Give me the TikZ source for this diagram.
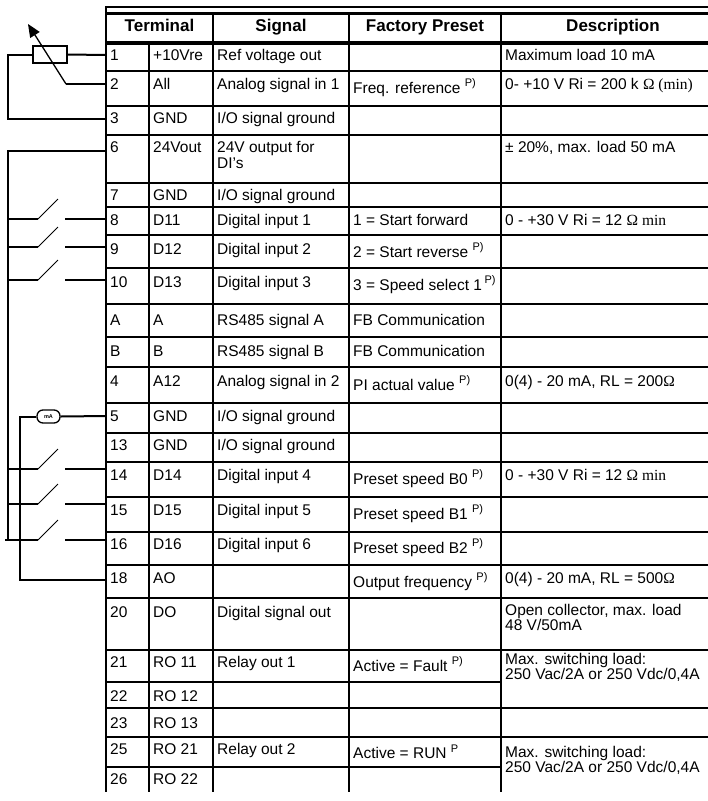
\documentclass[tikz,border=0pt]{standalone}
\usepackage{fontspec}
\setmainfont{Liberation Sans}
\newfontfamily\serifom{Liberation Serif}
\usetikzlibrary{arrows.meta}
\newcommand\Pp{\raisebox{0.42em}{\fontsize{11}{11}\selectfont P)}}
\newcommand\Pq{\raisebox{0.42em}{\fontsize{11}{11}\selectfont P}}
\begin{document}
\begin{tikzpicture}[x=1pt,y=-1pt,
  txt/.style={anchor=base west, inner sep=0pt, font=\fontsize{15.5}{16}\selectfont},
  mtxt/.style={anchor=north west, inner sep=0pt, align=left},
  hdr/.style={anchor=base, inner sep=0pt, font=\bfseries\fontsize{17}{17}\selectfont},
  gridl/.style={line width=2.5pt},
  wire/.style={line width=2pt},
  blade/.style={line width=1pt},
]
\useasboundingbox (0,0) rectangle (708,801);
% ---------- table rules ----------
\draw[line width=2pt] (105,7) -- (708,7);
\draw[gridl] (105,13.5) -- (708,13.5);
\draw[line width=4pt] (105,43) -- (708,43);
\foreach \yy in {71,106,135,183,207,235,268,304,337,367,403,433,462,497,532,565,598,650,708,737}
  \draw[gridl] (105,\yy) -- (708,\yy);
\foreach \yy in {682,767}
  \draw[gridl] (105,\yy) -- (501,\yy);
\draw[gridl] (106,6) -- (106,792);
\draw[gridl] (149,43) -- (149,792);
\foreach \xx in {213,349,501}
  \draw[gridl] (\xx,13) -- (\xx,792);
% ---------- header ----------
\node[hdr] (hT) at (159.5,31) {Terminal};
\node[hdr] (hS) at (281,31) {Signal};
\node[hdr] (hF) at (425,31) {Factory Preset};
\node[hdr] (hD) at (613,31) {Description};
% ---------- rows ----------
% row 1
\node[txt] (n1) at (110,60.5) {1};
\node[txt] (m1) at (153,60.5) {+10Vre};
\node[txt] (s1) at (217,60.5) {Ref voltage out};
\node[txt] (d1) at (505,60.5) {Maximum load 10 mA};
% row 2
\node[txt] (n2) at (110,89) {2};
\node[txt] (m2) at (153,89) {All};
\node[txt] (s2) at (217,89) {Analog signal in 1};
\node[txt] (f2) at (353,93) {Freq. reference \Pp};
\node[txt] (d2) at (505,89) {0- +10 V Ri = 200 k {\serifom Ω (min)}};
% row 3
\node[txt] (n3) at (110,123.5) {3};
\node[txt] (m3) at (153,123.5) {GND};
\node[txt] (s3) at (217,123.5) {I/O signal ground};
% row 6
\node[txt] (n6) at (110,152.5) {6};
\node[txt] (m6) at (153,152.5) {24Vout};
\node[mtxt, font=\fontsize{15.5}{16}\selectfont] (s6) at (217,141.5) {24V output for\\DI’s};
\node[txt] (d6) at (505,152.5) {± 20\%, max. load 50 mA};
% row 7
\node[txt] (n7) at (110,200) {7};
\node[txt] (m7) at (153,200) {GND};
\node[txt] (s7) at (217,200) {I/O signal ground};
% row 8
\node[txt] (n8) at (110,225) {8};
\node[txt] (m8) at (153,225) {D11};
\node[txt] (s8) at (217,225) {Digital input 1};
\node[txt] (f8) at (353,225) {1 = Start forward};
\node[txt] (d8) at (505,225) {0 - +30 V Ri = 12 {\serifom Ω min}};
% row 9
\node[txt] (n9) at (110,254) {9};
\node[txt] (m9) at (153,254) {D12};
\node[txt] (s9) at (217,254) {Digital input 2};
\node[txt] (f9) at (353,257) {2 = Start reverse \Pp};
% row 10
\node[txt] (n10) at (110,287) {10};
\node[txt] (m10) at (153,287) {D13};
\node[txt] (s10) at (217,287) {Digital input 3};
\node[txt] (f10) at (353,290) {3 = Speed select 1\,\Pp};
% row A
\node[txt] (nA) at (110,325) {A};
\node[txt] (mA1) at (153,325) {A};
\node[txt] (sA) at (217,325) {RS485 signal A};
\node[txt] (fA) at (353,325) {FB Communication};
% row B
\node[txt] (nB) at (110,356) {B};
\node[txt] (mB) at (153,356) {B};
\node[txt] (sB) at (217,356) {RS485 signal B};
\node[txt] (fB) at (353,356) {FB Communication};
% row 4
\node[txt] (n4) at (110,386) {4};
\node[txt] (m4) at (153,386) {A12};
\node[txt] (s4) at (217,386) {Analog signal in 2};
\node[txt] (f4) at (353,390) {PI actual value \Pp};
\node[txt] (d4) at (505,386) {0(4) - 20 mA, RL = 200{\serifom Ω}};
% row 5
\node[txt] (n5) at (110,421.5) {5};
\node[txt] (m5) at (153,421.5) {GND};
\node[txt] (s5) at (217,421.5) {I/O signal ground};
% row 13
\node[txt] (n13) at (110,450.5) {13};
\node[txt] (m13) at (153,450.5) {GND};
\node[txt] (s13) at (217,450.5) {I/O signal ground};
% row 14
\node[txt] (n14) at (110,480) {14};
\node[txt] (m14) at (153,480) {D14};
\node[txt] (s14) at (217,480) {Digital input 4};
\node[txt] (f14) at (353,484) {Preset speed B0 \Pp};
\node[txt] (d14) at (505,480) {0 - +30 V Ri = 12 {\serifom Ω min}};
% row 15
\node[txt] (n15) at (110,515) {15};
\node[txt] (m15) at (153,515) {D15};
\node[txt] (s15) at (217,515) {Digital input 5};
\node[txt] (f15) at (353,519) {Preset speed B1 \Pp};
% row 16
\node[txt] (n16) at (110,549.5) {16};
\node[txt] (m16) at (153,549.5) {D16};
\node[txt] (s16) at (217,549.5) {Digital input 6};
\node[txt] (f16) at (353,553.5) {Preset speed B2 \Pp};
% row 18
\node[txt] (n18) at (110,583) {18};
\node[txt] (m18) at (153,583) {AO};
\node[txt] (f18) at (353,587) {Output frequency \Pp};
\node[txt] (d18) at (505,583) {0(4) - 20 mA, RL = 500{\serifom Ω}};
% row 20
\node[txt] (n20) at (110,617) {20};
\node[txt] (m20) at (153,617) {DO};
\node[txt] (s20) at (217,617) {Digital signal out};
\node[mtxt, font=\fontsize{15.5}{14}\selectfont] (d20) at (505,604) {Open collector, max. load\\48 V/50mA};
% row 21
\node[txt] (n21) at (110,667.5) {21};
\node[txt] (m21) at (153,667.5) {RO 11};
\node[txt] (s21) at (217,667.5) {Relay out 1};
\node[txt] (f21) at (353,671.5) {Active = Fault \Pp};
\node[mtxt, font=\fontsize{15.5}{13.5}\selectfont] (d21) at (505,653) {Max. switching load:\\250 Vac/2A or 250 Vdc/0,4A};
% rows 22, 23
\node[txt] (n22) at (110,701) {22};
\node[txt] (m22) at (153,701) {RO 12};
\node[txt] (n23) at (110,728) {23};
\node[txt] (m23) at (153,728) {RO 13};
% row 25
\node[txt] (n25) at (110,754.5) {25};
\node[txt] (m25) at (153,754.5) {RO 21};
\node[txt] (s25) at (217,754.5) {Relay out 2};
\node[txt] (f25) at (353,758.5) {Active = RUN \Pq};
\node[mtxt, font=\fontsize{15.5}{13.5}\selectfont] (d25) at (505,746) {Max. switching load:\\250 Vac/2A or 250 Vdc/0,4A};
% row 26
\node[txt] (n26) at (110,784.5) {26};
\node[txt] (m26) at (153,784.5) {RO 22};
% ---------- terminal points on the table edge ----------
\coordinate (t1) at (106,55);
\coordinate (t2) at (106,84);
\coordinate (t3) at (106,119);
\coordinate (t6) at (106,151);
\coordinate (t8) at (106,219);
\coordinate (t9) at (106,247);
\coordinate (t10) at (106,280);
\coordinate (t5) at (106,416);
\coordinate (t14) at (106,469);
\coordinate (t15) at (106,504);
\coordinate (t16) at (106,540);
\coordinate (t18) at (106,580);
% ---------- potentiometer ----------
\node[draw, line width=2pt, minimum width=34pt, minimum height=17pt, inner sep=0pt] (pot) at (49.5,54.5) {};
\coordinate (c3) at (8,119);
\coordinate (w2) at (66,84);
\coordinate (tip) at (28,24);
\draw[wire] (pot.east) -- (t1);
\draw[wire] (pot.west) -| (c3) -- (t3);
\draw[wire] (t2) -- (w2);
\draw[line width=1.3pt, -{Triangle[length=13pt,width=11pt]}] (w2) -- (tip);
% ---------- 24 V bus and switches ----------
\coordinate (b6) at (7.5,151);
\coordinate (bend) at (7.5,540);
\draw[wire] (t6) -- (b6) -- (bend);
\foreach \nm/\yy in {8/219, 9/247, 10/280, 14/469, 15/504, 16/540}{
  \coordinate (sl\nm) at (7.5,\yy);
  \coordinate (sp\nm) at (38,\yy);
  \coordinate (st\nm) at (58,\yy-20);
  \coordinate (sc\nm) at (65,\yy);
  \draw[wire] (sl\nm) -- (sp\nm);
  \draw[blade] (sp\nm) -- (st\nm);
  \draw[wire] (sc\nm) -- (t\nm);
}
\coordinate (sl16b) at (5,540);
\draw[wire] (sl16b) -- (sl16);
% ---------- mA meter loop ----------
\node[draw, line width=1.3pt, rounded corners=6pt, minimum width=23pt, minimum height=13pt, inner sep=0pt,
      font=\bfseries\fontsize{5.5}{5.5}\selectfont] (meter) at (48.5,416.5) {mA};
\coordinate (m5l) at (20,416.5);
\coordinate (m18) at (20,580);
\draw[wire] (meter.east) -- (t5);
\draw[wire] (meter.west) -- (m5l) -- (m18) -- (t18);
\end{tikzpicture}
\end{document}
